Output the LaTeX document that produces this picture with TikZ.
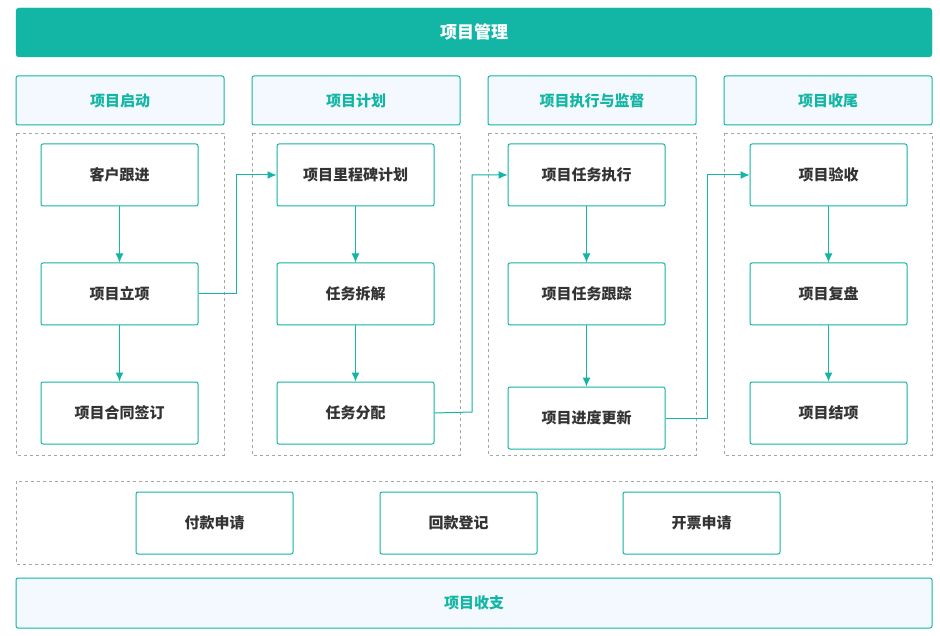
\documentclass[tikz,border=0pt]{standalone}
\usepackage{fontspec}
\setmainfont{Noto Sans CJK SC}
\usetikzlibrary{arrows.meta}
\definecolor{teal1}{HTML}{13B5A4}
\definecolor{lightbg}{HTML}{F3F9FE}
\definecolor{txt}{HTML}{333333}
\begin{document}
\begin{tikzpicture}[x=1pt,y=-1pt,
 box/.style={draw=teal1,fill=white,rounded corners=2pt,line width=1pt,text=txt,font=\bfseries\fontsize{15}{17}\selectfont},
 hdr/.style={draw=teal1,fill=lightbg,rounded corners=2pt,line width=1pt,text=teal1,font=\bfseries\fontsize{15}{17}\selectfont},
 dbox/.style={draw=gray!70,dashed,line width=0.7pt},
 arr/.style={draw=teal1,line width=1pt,-{Latex[length=9pt,width=8pt]}}]
\useasboundingbox (0,0) rectangle (940,636);
\fill[white] (0,0) rectangle (940,636);
\node[draw=teal1,fill=teal1,rounded corners=3pt,minimum width=916pt,minimum height=49pt,text=white,font=\bfseries\fontsize{17}{19}\selectfont] (top) at (474,32.5) {项目管理};
\foreach \x/\t/\n in {16/项目启动/h1,252/项目计划/h2,488/项目执行与监督/h3,724/项目收尾/h4}{
 \node[hdr,minimum width=208pt,minimum height=49pt] (\n) at (\x+104,100.5) {\t};
 \draw[dbox] (\x,133) rectangle (\x+208,455);
}
\tikzset{nb/.style={box,minimum width=157pt,minimum height=62pt}}
\node[nb] (a1) at (119.5,175) {客户跟进};
\node[nb] (a2) at (119.5,294) {项目立项};
\node[nb] (a3) at (119.5,413) {项目合同签订};
\node[nb] (b1) at (355.5,175) {项目里程碑计划};
\node[nb] (b2) at (355.5,294) {任务拆解};
\node[nb] (b3) at (355.5,413) {任务分配};
\node[nb] (c1) at (586.5,175) {项目任务执行};
\node[nb] (c2) at (586.5,294) {项目任务跟踪};
\node[nb] (c3) at (586.5,418) {项目进度更新};
\node[nb] (d1) at (828.5,175) {项目验收};
\node[nb] (d2) at (828.5,294) {项目复盘};
\node[nb] (d3) at (828.5,413) {项目结项};
\foreach \p in {a,b,c,d}{
 \draw[arr] (\p1) -- (\p2);
 \draw[arr] (\p2) -- (\p3);
}
\draw[arr] (a2.east) -- (236,294) -- (236,175) -- (b1.west);
\draw[arr] (b3.east) -- (472,412) -- (472,175) -- (c1.west);
\draw[arr] (c3.east) -- (707,418) -- (707,175) -- (d1.west);
\draw[dbox] (16,481) rectangle (932,564);
\node[nb] (e1) at (214.5,523) {付款申请};
\node[nb] (e2) at (458.5,523) {回款登记};
\node[nb] (e3) at (701.5,523) {开票申请};
\node[hdr,minimum width=916pt,minimum height=50pt] (bot) at (474,603) {项目收支};
\end{tikzpicture}
\end{document}
